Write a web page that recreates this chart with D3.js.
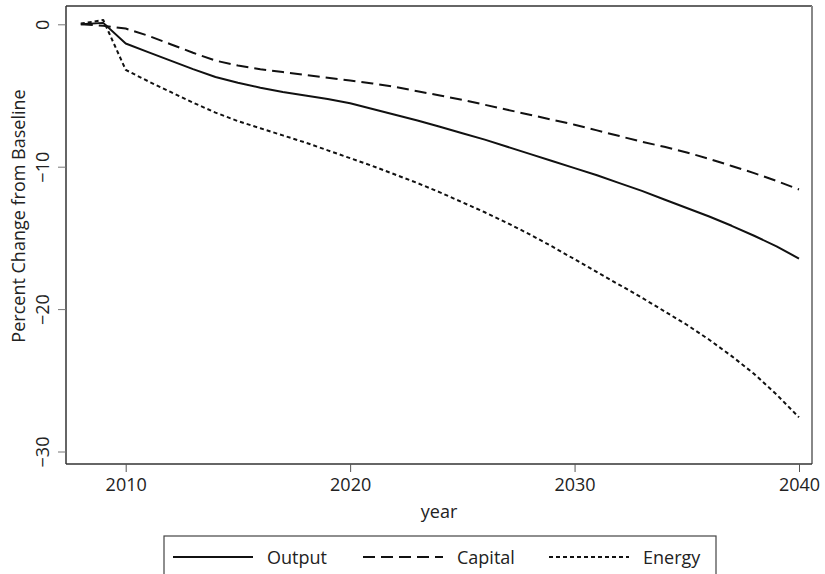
<!DOCTYPE html>
<html>
<head>
<meta charset="utf-8">
<script src="https://cdn.jsdelivr.net/npm/d3@7"></script>
<style>
  html, body { margin: 0; padding: 0; background: #fff; }
  svg { display: block; }
  text { font-family: "Open Sans", "Noto Sans", sans-serif; fill: #222; }
</style>
</head>
<body>
<svg id="chart" width="825" height="574"></svg>
<script>
const years = d3.range(2008, 2041);
const output = [0, 0.1, -1.35, -1.95, -2.55, -3.15, -3.7, -4.1, -4.45, -4.75, -5.0, -5.25, -5.55,
  -5.95, -6.35, -6.75, -7.2, -7.65, -8.1, -8.6, -9.1, -9.6, -10.1, -10.6, -11.15, -11.7, -12.3,
  -12.9, -13.5, -14.15, -14.85, -15.6, -16.45];
const capital = [0, -0.1, -0.3, -0.8, -1.4, -2.0, -2.55, -2.9, -3.15, -3.35, -3.55, -3.75, -3.95,
  -4.15, -4.4, -4.7, -5.0, -5.3, -5.65, -6.0, -6.35, -6.7, -7.05, -7.45, -7.85, -8.25, -8.6,
  -9.0, -9.45, -9.95, -10.45, -11.0, -11.6];
const energy = [0.05, 0.3, -3.2, -4.0, -4.75, -5.5, -6.2, -6.8, -7.3, -7.8, -8.3, -8.85, -9.4,
  -9.95, -10.55, -11.15, -11.8, -12.5, -13.2, -13.95, -14.75, -15.6, -16.5, -17.4, -18.3,
  -19.2, -20.15, -21.1, -22.15, -23.3, -24.55, -26.0, -27.6];
const seriesNames = ["Output", "Capital", "Energy"];
const xTicks = [2010, 2020, 2030, 2040];
const yTicks = [0, -10, -20, -30];

const styles = {
  Output: { dash: null, width: 2 },
  Capital: { dash: "12,6", width: 2 },
  Energy: { dash: "4,3", width: 2 }
};

const svg = d3.select("#chart");
const L = 66, R = 812, T = 6, B = 464;

const x = d3.scaleLinear().domain([2010, 2040]).range([125.7, 799]);
const y = d3.scaleLinear().domain([0, -30]).range([24.3, 451.5]);

// frame
svg.append("line").attr("x1", L).attr("x2", R).attr("y1", T).attr("y2", T)
  .attr("stroke", "#333").attr("stroke-width", 1.5);
svg.append("line").attr("x1", R).attr("x2", R).attr("y1", T).attr("y2", B)
  .attr("stroke", "#888").attr("stroke-width", 2);

// axes
const xAxis = d3.axisBottom(x).tickValues(xTicks).tickFormat(d3.format("d")).tickSize(8).tickPadding(6);
const gx = svg.append("g").attr("transform", `translate(0,${B})`).call(xAxis);
gx.select(".domain").attr("d", `M${L},0H${R}`).attr("stroke", "#333").attr("stroke-width", 1.5);
gx.selectAll(".tick line").attr("stroke", "#555");
gx.selectAll(".tick text").attr("font-size", 18).attr("fill", "#222")
  .style("font-family", '"Open Sans", sans-serif');

const yAxis = d3.axisLeft(y).tickValues(yTicks).tickFormat(d3.format("d")).tickSize(8).tickPadding(0);
const gy = svg.append("g").attr("transform", `translate(${L},0)`).call(yAxis);
gy.select(".domain").attr("d", `M0,${T}V${B}`).attr("stroke", "#333").attr("stroke-width", 1.5);
gy.selectAll(".tick line").attr("stroke", "#777");
gy.selectAll(".tick text")
  .attr("font-size", 18).attr("fill", "#222")
  .attr("x", null).attr("dy", null)
  .attr("text-anchor", "middle")
  .attr("transform", "translate(-17,0) rotate(-90)")
  .style("font-family", '"Open Sans", sans-serif');

// axis titles
svg.append("text").attr("x", (L + R) / 2).attr("y", 518)
  .attr("text-anchor", "middle").attr("font-size", 18).text("year");
svg.append("text")
  .attr("transform", `translate(25,216) rotate(-90)`)
  .attr("text-anchor", "middle").attr("font-size", 18).text("Percent Change from Baseline");

// lines
const data = { Output: output, Capital: capital, Energy: energy };
const line = d3.line().x((d, i) => x(years[i])).y(d => y(d));
seriesNames.forEach(name => {
  svg.append("path").datum(data[name])
    .attr("d", line)
    .attr("fill", "none")
    .attr("stroke", "#111")
    .attr("stroke-width", styles[name].width)
    .attr("stroke-linejoin", "round")
    .attr("stroke-dasharray", styles[name].dash);
});

// legend
const lg = svg.append("g");
lg.append("rect").attr("x", 164).attr("y", 536).attr("width", 552).attr("height", 50)
  .attr("fill", "none").attr("stroke", "#444").attr("stroke-width", 1.2);
const legendX = [173, 363, 549];
seriesNames.forEach((name, i) => {
  lg.append("line").attr("x1", legendX[i]).attr("x2", legendX[i] + 80)
    .attr("y1", 557).attr("y2", 557)
    .attr("stroke", "#111").attr("stroke-width", styles[name].width)
    .attr("stroke-dasharray", styles[name].dash);
  lg.append("text").attr("x", legendX[i] + 94).attr("y", 563.5)
    .attr("font-size", 18).text(name);
});
</script>
</body>
</html>
